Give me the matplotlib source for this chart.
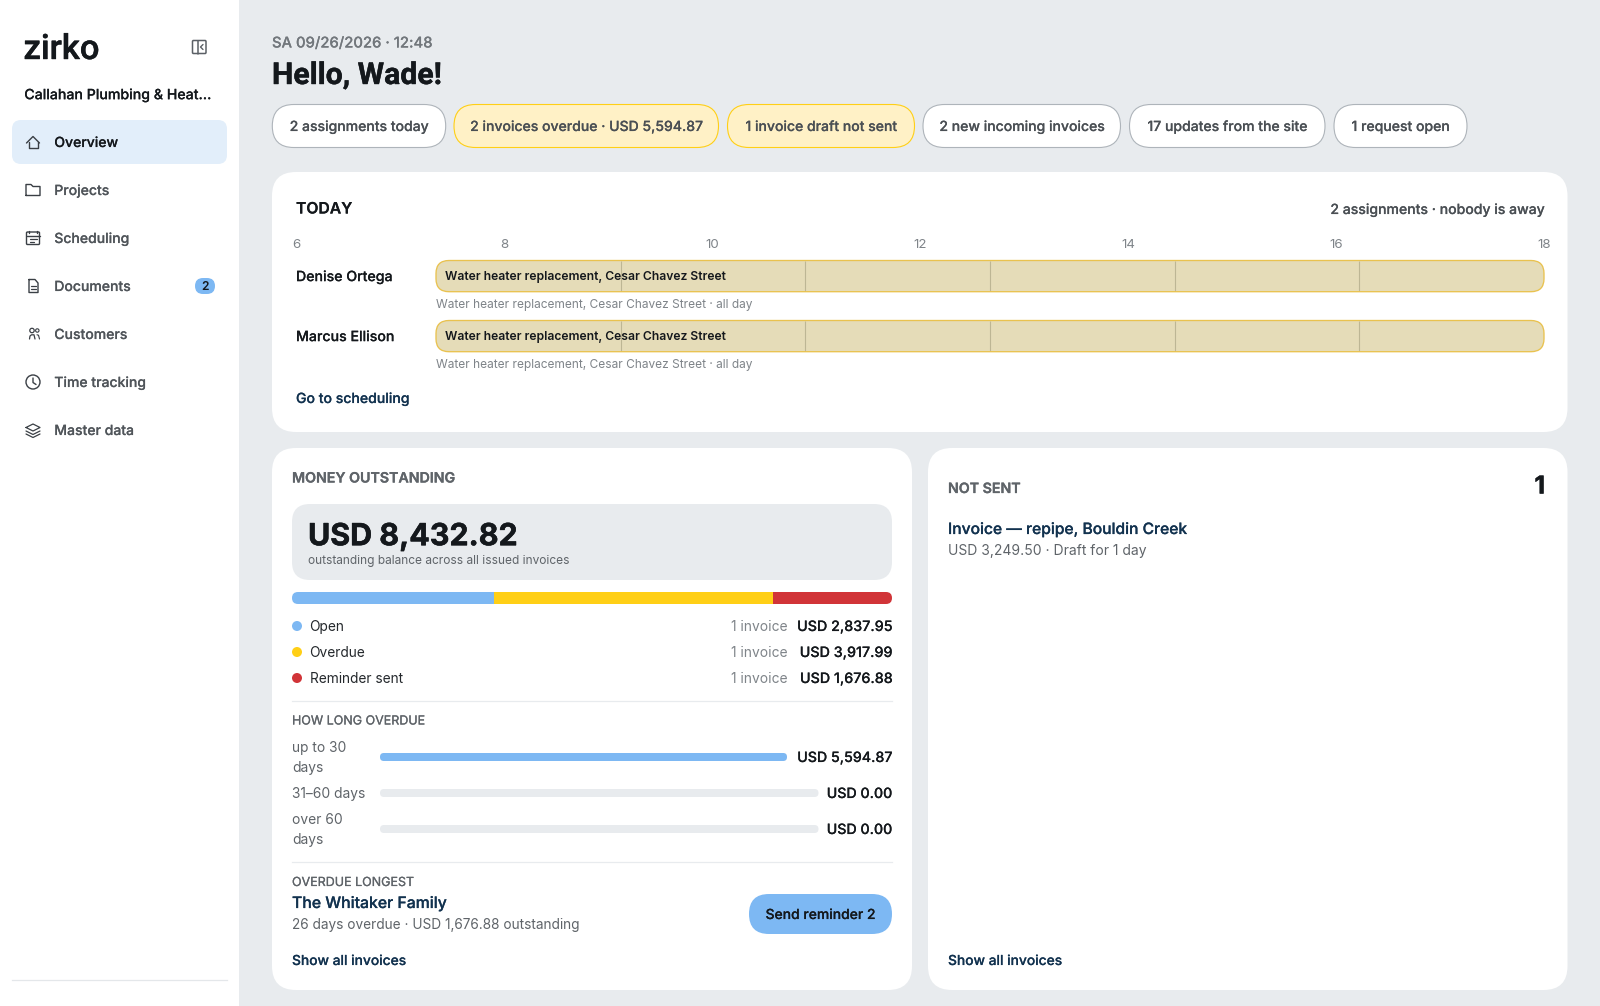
import matplotlib
matplotlib.use("Agg")
import matplotlib.pyplot as plt
from matplotlib.patches import FancyBboxPatch, Circle, Rectangle
import matplotlib.patheffects as pe

plt.rcParams['font.family'] = ['Inter', 'DejaVu Sans']

# ---------- data ----------
nav_items = ["Overview", "Projects", "Scheduling", "Documents", "Customers", "Time tracking", "Master data"]
pills = ["2 assignments today", "2 invoices overdue · USD 5,594.87", "1 invoice draft not sent",
         "2 new incoming invoices", "17 updates from the site", "1 request open"]
pill_warn = [False, True, True, False, False, False]
hours = [6, 8, 10, 12, 14, 16, 18]
people = ["Denise Ortega", "Marcus Ellison"]
job = "Water heater replacement, Cesar Chavez Street"
job_start = [6, 6]
job_end = [18, 18]
status_names = ["Open", "Overdue", "Reminder sent"]
status_values = [2837.95, 3917.99, 1676.88]
status_counts = ["1 invoice", "1 invoice", "1 invoice"]
status_colors = ["#7DB8F3", "#FFCF16", "#D13438"]
age_names = [["up to 30", "days"], ["31–60 days"], ["over 60", "days"]]
age_values = [5594.87, 0.00, 0.00]

W, H = 1600, 1006
BG = "#E8EBEE"; INK = "#14181C"; NAVY = "#12324F"; GRAY = "#5F6469"; LGRAY = "#7F8489"

fig = plt.figure(figsize=(W/100, H/100), dpi=100, facecolor=BG)

def pxax(x0, y0, x1, y1, z=1):
    a = fig.add_axes([x0/W, 1-y1/H, (x1-x0)/W, (y1-y0)/H], zorder=z)
    a.patch.set_alpha(0)
    return a

base = pxax(0, 0, W, H, 0)
base.set_xlim(0, W); base.set_ylim(H, 0); base.axis("off")
top = pxax(0, 0, W, H, 10)
top.set_xlim(0, W); top.set_ylim(H, 0); top.axis("off")

def rrect(x0, y0, x1, y1, r, fc="none", ec="none", lw=0, a=None, z=1):
    a = a or base
    p = FancyBboxPatch((x0, y0), x1-x0, y1-y0, boxstyle=f"round,pad=0,rounding_size={r}",
                       fc=fc, ec=ec, lw=lw, zorder=z)
    a.add_patch(p)
    return p

def T(x, y, s, px=14.0, c=INK, w="normal", ha="left", med=0.0, family=None):
    t = top.text(x, y-0.5, s, fontsize=px*0.72, color=c, fontweight=w, ha=ha, va="center_baseline")
    if family:
        t.set_fontfamily(family)
    if med:
        t.set_path_effects([pe.withStroke(linewidth=med, foreground=c)])
    return t

def L(xs, ys, c="#3A3F45", lw=1.0):
    top.plot(xs, ys, color=c, lw=lw, solid_capstyle="round", solid_joinstyle="round")

# ---------- sidebar ----------
base.add_patch(Rectangle((0, 0), 239, H, fc="white", ec="none"))
base.plot([12, 227], [980, 980], color="#E4E7EA", lw=0.9)
T(23.5, 47, "zirko", 34.5, INK, "medium", family=["Roboto", "DejaVu Sans"], med=0.3)
rrect(192.5, 40.5, 206, 53.5, 1, ec="#5B6066", lw=1.1, a=top)
L([197.5, 197.5], [40.5, 53.5], "#5B6066", 1.1)
L([203, 200.5, 203], [44.5, 47, 49.5], "#5B6066", 1.0)
T(24.3, 94.2, "Callahan Plumbing & Heat...", 14.15, INK, "medium", med=0.1)
rrect(12, 120, 227, 164, 9, fc="#E2EEFA")
nav_y = [142, 190, 238, 286, 334, 382, 430]
for i, (n, y) in enumerate(zip(nav_items, nav_y)):
    T(54.3, y, n, 14.0, INK if i == 0 else "#50555A", "medium", med=0.1)
# icons
ic = "#3A3F45"
L([26.5, 33, 39.5], [143, 136.5, 143], ic, 1.0); L([28.5, 28.5, 37.5, 37.5], [141.5, 147.5, 147.5, 141.5], ic, 1.0)
L([26, 26, 31, 33, 40, 40, 26], [195.5, 184.5, 184.5, 186.5, 186.5, 195.5, 195.5], ic, 1.0)
rrect(26.5, 232, 39.5, 244.5, 1, ec=ic, lw=1.0, a=top)
L([26.5, 39.5], [235.5, 235.5], ic, 1.0); L([29, 29], [231, 233], ic, 1.0); L([37, 37], [231, 233], ic, 1.0)
L([29.5, 36.5], [238.5, 238.5], ic, .9); L([29.5, 34], [241.5, 241.5], ic, .9)
L([29, 29, 38, 38, 35, 29], [279.5, 292.5, 292.5, 283, 279.5, 279.5], ic, 1.0)
L([31, 36], [286, 286], ic, .9); L([31, 36], [289, 289], ic, .9)
top.add_patch(Circle((32, 330.5), 2.2, fc="none", ec=ic, lw=.9)); top.add_patch(Circle((37.3, 330.5), 1.7, fc="none", ec=ic, lw=.8))
L([29.5, 30, 31.5, 34, 35], [339, 336, 334.8, 334.8, 339], ic, .9); L([37, 38.5, 39.5], [334.8, 335.2, 339], ic, .8)
top.add_patch(Circle((33, 382), 7, fc="none", ec=ic, lw=1.0)); L([33, 33, 36], [378, 382.5, 384.5], ic, 1.0)
L([26, 33, 40, 33, 26], [427.5, 424, 427.5, 431, 427.5], ic, .9)
L([26, 33, 40], [431, 434.5, 431], ic, .9); L([26, 33, 40], [434, 437.5, 434], ic, .9)
rrect(195, 278, 215, 294, 8, fc="#7DB8F3")
T(205, 286, "2", 12, INK, "semibold", ha="center")

# ---------- header ----------
T(272, 42.5, "SA 09/26/2026 · 12:48", 14.8, "#72777C", "medium", med=0.1)
T(272, 73.5, "Hello, Wade!", 30.2, INK, "bold", family=["Roboto", "DejaVu Sans"], med=0.3)
pill_x = [(272.3, 445.7), (454, 718.5), (727.5, 914.5), (923, 1120.5), (1129.5, 1325), (1334, 1467)]
for (x0, x1), s, warn in zip(pill_x, pills, pill_warn):
    rrect(x0, 104.5, x1, 147.5, 21.5, fc="#FFF1C6" if warn else "white", ec="#FFCF16" if warn else "#AEB4BA", lw=0.8)
    T((x0+x1)/2, 126, s, 14.0, "#4A4F54", "medium", ha="center", med=0.1)

# ---------- today card ----------
rrect(272, 172, 1567.5, 432, 24, fc="white")
T(296, 208, "TODAY", 15.7, INK, "semibold", med=0.1)
T(1544, 209, "2 assignments · nobody is away", 14.03, "#4A4F54", "medium", ha="right", med=0.1)
tick_ax = pxax(296, 236, 1544, 250)
tick_ax.set_xlim(6, 18); tick_ax.set_ylim(0, 1)
for s in tick_ax.spines.values():
    s.set_visible(False)
tick_ax.set_yticks([]); tick_ax.set_xticks(hours)
tick_ax.set_xticklabels([str(h) for h in hours], fontsize=9.6, color=LGRAY)
tick_ax.tick_params(axis="x", length=0, pad=-8)

rows_y = [(260.5, 291.7), (320.5, 351.7)]
for person, start, end, (y0, y1) in zip(people, job_start, job_end, rows_y):
    ta = pxax(436, y0, 1544, y1, 2)
    ta.set_xlim(6, 18); ta.set_ylim(0, 1); ta.axis("off")
    clip = rrect(436, y0, 1544, y1, 13, fc="none")
    bars = ta.barh(0.5, end-start, left=start, height=1, color="#E5DCB8", zorder=1)
    for b in bars:
        b.set_clip_path(clip)
    ta.vlines(hours[1:-1], 0, 1, color="#BDB694", lw=0.8, zorder=2)
    rrect(436, y0, 1544, y1, 13, ec="#E9C24F", lw=0.95, a=top)
    T(296, (y0+y1)/2, person, 14.15, INK, "medium", med=0.1)
    T(445, (y0+y1)/2, job, 12.15, INK, "semibold")
    T(436, y1+12, job + " · all day", 11.9, LGRAY)
T(296, 398, "Go to scheduling", 14.05, NAVY, "medium", med=0.1)

# ---------- money card ----------
rrect(272, 448, 912, 990, 24, fc="white")
T(292, 477.5, "MONEY OUTSTANDING", 14.2, GRAY, "semibold", med=0.2)
rrect(292, 504, 892, 580, 18, fc=BG)
T(308, 534.7, f"USD {sum(status_values):,.2f}", 30.4, INK, "bold", med=0.4)
T(308, 560, "outstanding balance across all issued invoices", 11.9, GRAY)

sa = pxax(292, 592, 892, 604, 2)
sa.set_xlim(0, sum(status_values)); sa.set_ylim(0, 1); sa.axis("off")
clip = rrect(292, 592, 892, 604, 6, fc="none")
left = 0
for v, c in zip(status_values, status_colors):
    b = sa.barh(0.5, v, left=left, height=1, color=c)
    b[0].set_clip_path(clip)
    left += v
for n, v, cnt, c, y in zip(status_names, status_values, status_counts, status_colors, [626, 652, 678]):
    top.add_patch(Circle((297, y), 5, fc=c, ec="none"))
    T(309.5, y, n, 13.7, "#24282C")
    T(787.5, y, cnt, 13.8, LGRAY, ha="right")
    T(892, y, f"USD {v:,.2f}", 14.3, INK, "medium", ha="right", med=0.1)
base.plot([292, 892], [700.5, 700.5], color=BG, lw=0.9)
T(292, 720.5, "HOW LONG OVERDUE", 12.5, GRAY, "normal", med=0.15)

age_rows = [(753, 761, 787), (789, 797, 818.5), (825, 833, 818.5)]
label_ys = [[747, 767], [793], [819, 839]]
for names, v, (y0, y1, xe), ly in zip(age_names, age_values, age_rows, label_ys):
    for n, yy in zip(names, ly):
        T(292, yy, n, 13.8, GRAY)
    rrect(380, y0, xe, y1, 4, fc=BG)
    ga = pxax(380, y0, xe, y1, 2)
    ga.set_xlim(0, max(age_values)); ga.set_ylim(0, 1); ga.axis("off")
    clip = rrect(380, y0, xe, y1, 4, fc="none")
    b = ga.barh(0.5, v, height=1, color="#7DB8F3")
    b[0].set_clip_path(clip)
    T(892, (y0+y1)/2, f"USD {v:,.2f}", 14.2, INK, "medium", ha="right", med=0.1)
base.plot([292, 892], [861.5, 861.5], color=BG, lw=0.9)
T(292, 882, "OVERDUE LONGEST", 12.5, GRAY, "normal", med=0.15)
T(292, 902.5, "The Whitaker Family", 15.8, NAVY, "medium", med=0.15)
T(292, 924, f"26 days overdue · USD {status_values[2]:,.2f} outstanding", 13.65, GRAY)
rrect(749, 894, 892, 934, 20, fc="#7DB8F3")
T(820.5, 914, "Send reminder 2", 13.9, INK, "medium", ha="center", med=0.1)
T(292, 960, "Show all invoices", 13.8, NAVY, "medium", med=0.1)

# ---------- not sent card ----------
rrect(928, 448, 1567.5, 990, 24, fc="white")
T(948, 488, "NOT SENT", 14.2, GRAY, "semibold", med=0.2)
T(1545, 485, "1", 24.5, INK, "bold", ha="right", med=0.3)
T(948, 528.5, "Invoice — repipe, Bouldin Creek", 15.6, NAVY, "medium", med=0.15)
T(948, 550, "USD 3,249.50 · Draft for 1 day", 13.9, GRAY)
T(948, 960, "Show all invoices", 13.8, NAVY, "medium", med=0.1)

fig.savefig("out.png", dpi=100, facecolor=BG)
